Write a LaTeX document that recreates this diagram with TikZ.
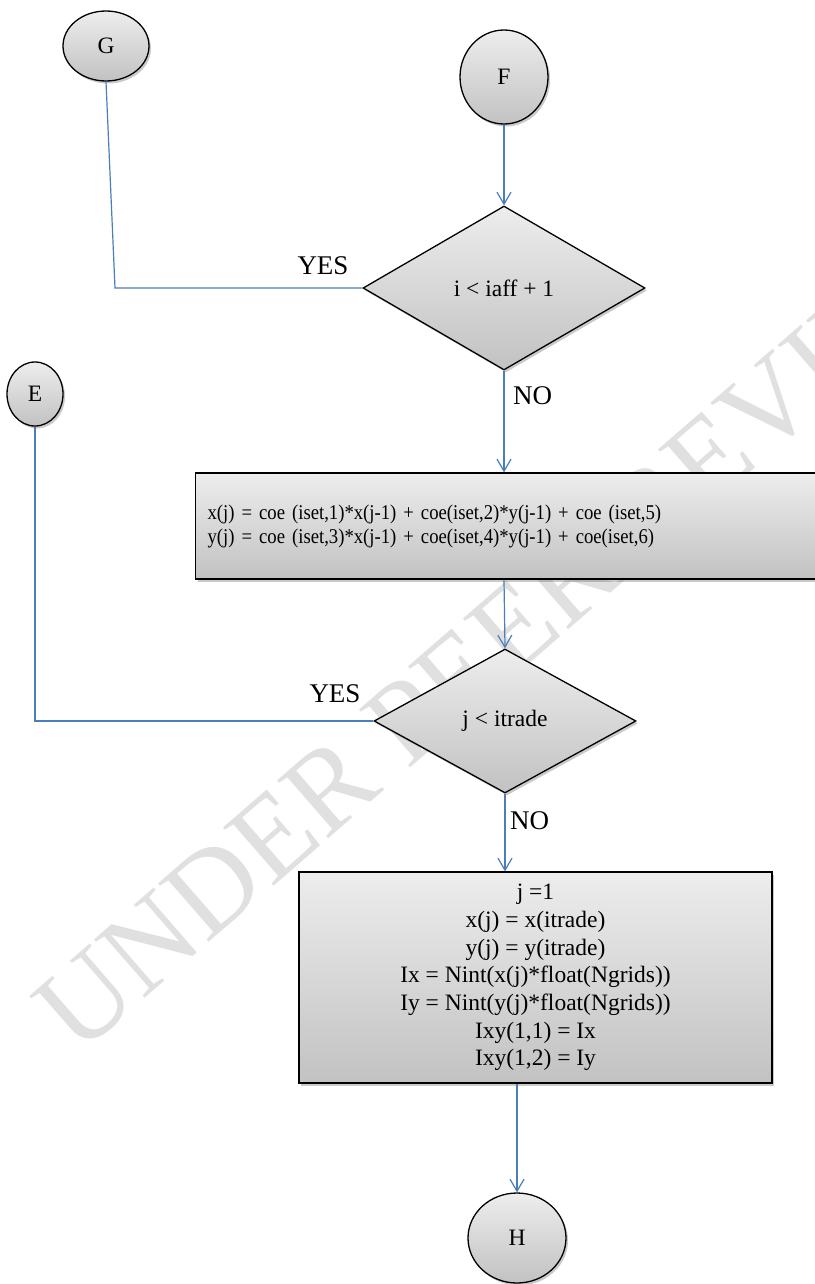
\documentclass[tikz,border=0pt]{standalone}
\usepackage{fontspec}
\setmainfont{Liberation Serif}
\newfontfamily\narrowserif[FakeStretch=0.89]{Liberation Serif}
\usetikzlibrary{shapes.geometric,arrows.meta,shadows}

\tikzset{
  flowline/.style={draw=linkblue, line width=1.2pt},
  flowarrow/.style={flowline, -{Straight Barb[length=12pt,width=14pt,line width=1.2pt]}},
  shaded/.style={draw=black, line width=1.3pt, top color=boxtop, bottom color=boxbottom,
    drop shadow={shadow xshift=2pt, shadow yshift=-2.5pt, opacity=0.35, fill=black!60}},
  connector/.style={shaded, ellipse, inner sep=0pt},
  decision/.style={shaded, diamond, inner sep=0pt, aspect=2},
  process/.style={shaded, rectangle, inner sep=0pt},
  lbl/.style={inner sep=0pt, font=\fontsize{27}{30}\selectfont},
}
\definecolor{linkblue}{HTML}{4A7EBB}
\definecolor{boxtop}{HTML}{EDEDED}
\definecolor{boxbottom}{HTML}{C2C2C2}
\definecolor{markgray}{HTML}{E0E0E0}

\begin{document}
\begin{tikzpicture}[x=1pt, y=-1pt, font=\fontsize{23.5}{27.7}\selectfont]
\useasboundingbox (0,0) rectangle (814,1284);

% review stamp behind the chart
\node[markgray, rotate=41, inner sep=0pt, font=\fontsize{118}{118}\selectfont]
  (stamp) at (511,630) {UNDER PEER REVIEW};

% connectors (circles)
\node[connector, minimum width=86pt, minimum height=70pt] (G) at (106,46) {G};
\node[connector, minimum width=88pt, minimum height=94pt] (F) at (504,77) {F};
\node[connector, minimum width=56pt, minimum height=64pt] (E) at (35,394) {E};
\node[connector, minimum width=98pt, minimum height=90pt] (H) at (517,1238) {H};

% decisions
\node[decision, minimum width=282pt, minimum height=164pt] (D1) at (504,288) {i < iaff + 1};
\node[decision, minimum width=262pt, minimum height=144pt] (D2) at (505,721) {j < itrade};

% processes
\node[process, anchor=west, text width=680pt, inner xsep=12pt, align=left,
      minimum height=106pt, font=\narrowserif\fontsize{21}{24}\selectfont] (B1) at (195,526)
  {x(j) = coe (iset,1)*x(j-1) + coe(iset,2)*y(j-1) + coe (iset,5)\\
   y(j) = coe (iset,3)*x(j-1) + coe(iset,4)*y(j-1) + coe(iset,6)};
\node[process, minimum width=473pt, minimum height=211pt, align=center] (B2) at (535.5,977.5)
  {j =1\\ x(j) = x(itrade)\\ y(j) = y(itrade)\\ Ix = Nint(x(j)*float(Ngrids))\\
   Iy = Nint(y(j)*float(Ngrids))\\ Ixy(1,1) = Ix\\ Ixy(1,2) = Iy};

% bend points of the loop-back lines
\coordinate (gbend) at (115,288);
\coordinate (ebend) at (35,721);

% main flow
\draw[flowarrow] (F.south) -- (D1.north);
\draw[flowarrow] (D1.south) -- (D1.south |- B1.north);
\draw[flowarrow] (D1.south |- B1.south) -- (D2.north);
\draw[flowarrow] (D2.south) -- (D2.south |- B2.north);
\draw[flowarrow] (H.north |- B2.south) -- (H.north);

% loop-back lines
\draw[flowline] (G.south) -- (gbend) -- (D1.west);
\draw[flowline] (E.south) -- (ebend) -- (D2.west);

% branch labels
\node[lbl] (yes1) at (323,266) {YES};
\node[lbl, anchor=west] (no1) at (513,396) {NO};
\node[lbl] (yes2) at (335,694) {YES};
\node[lbl, anchor=west] (no2) at (510,821) {NO};
\end{tikzpicture}
\end{document}
